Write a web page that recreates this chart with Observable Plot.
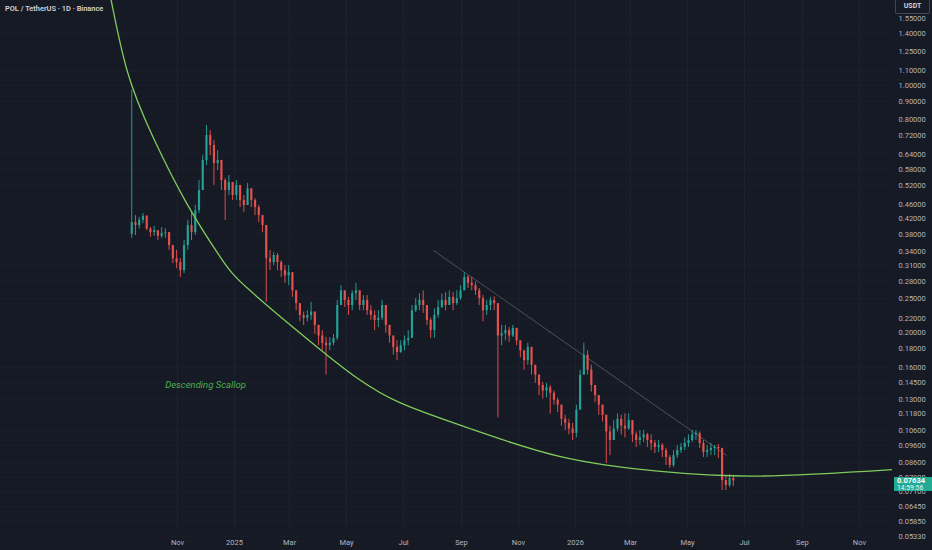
<!DOCTYPE html>
<html><head><meta charset="utf-8">
<script src="https://cdn.jsdelivr.net/npm/d3@7"></script>
<script src="https://cdn.jsdelivr.net/npm/@observablehq/plot@0.6"></script>
<style>
html,body{margin:0;padding:0;background:#161a25;}
#wrap{position:relative;width:932px;height:550px;background:#161a25;overflow:hidden;font-family:Roboto,"Liberation Sans",sans-serif;}
#wrap svg{display:block;}
#title{position:absolute;left:5px;top:4px;color:#d1d4dc;font-size:7.4px;font-weight:600;white-space:nowrap;}
#unit{position:absolute;left:895px;top:0px;width:33px;height:13px;border:1px solid #434651;border-top:none;border-radius:0 0 2px 2px;background:#161a25;color:#d1d4dc;font-size:7px;font-weight:700;text-align:center;line-height:13px;}
#price{position:absolute;left:894px;top:477px;width:38px;height:14px;background:#22ab94;color:#fff;text-align:left;}
#price .p{position:absolute;left:3px;top:-1px;font-size:7.5px;font-weight:700;line-height:9px;}
#price .t{position:absolute;left:3px;top:6.5px;font-size:6.8px;line-height:8px;opacity:.9;}
</style>
</head><body>
<div id="wrap">
  <div id="chart"></div>
  <div id="title">POL / TetherUS · 1D · Binance</div>
  <div id="unit">USDT</div>
  <div id="price"><span class="p">0.07634</span><span class="t">14:59:56</span></div>
</div>
<script>
// ---- data: 4-day candles starting 2024-09-13 ----
const candleStart = "2024-09-13";
const firstOpen = 0.38;
const closes = [0.410,0.402,0.416,0.427,0.393,0.384,0.389,0.375,0.382,0.384,
0.353,0.324,0.316,0.300,0.353,0.402,0.384,0.443,0.505,0.614,
0.722,0.677,0.602,0.614,0.539,0.505,0.532,0.489,0.522,0.473,
0.458,0.511,0.473,0.452,0.429,0.402,0.324,0.316,0.331,0.316,
0.300,0.290,0.296,0.263,0.242,0.224,0.220,0.224,0.229,0.210,
0.196,0.187,0.184,0.187,0.193,0.239,0.263,0.247,0.239,0.258,
0.263,0.239,0.247,0.231,0.224,0.217,0.220,0.239,0.210,0.196,
0.182,0.176,0.184,0.190,0.193,0.231,0.239,0.247,0.239,0.217,
0.203,0.224,0.236,0.247,0.239,0.252,0.242,0.250,0.263,0.287,
0.276,0.272,0.263,0.250,0.231,0.239,0.247,0.242,0.196,0.199,
0.203,0.196,0.206,0.190,0.178,0.167,0.182,0.162,0.152,0.142,
0.137,0.140,0.135,0.129,0.125,0.114,0.111,0.107,0.104,0.121,
0.152,0.173,0.157,0.142,0.133,0.125,0.117,0.105,0.0993,0.107,
0.114,0.109,0.107,0.113,0.103,0.0993,0.101,0.103,0.0993,0.0974,
0.0949,0.0962,0.0930,0.0889,0.0844,0.0900,0.0930,0.0949,0.0974,0.0993,
0.103,0.104,0.0974,0.0918,0.0930,0.0943,0.0949,0.0943,0.0765,0.0741,
0.0775,0.07634];
const highs = [0.97,0.429,0.424,0.435,0.429,0.397,0.400,0.389,0.397,0.394,
0.384,0.353,0.342,0.324,0.365,0.416,0.438,0.458,0.539,0.634,
0.771,0.746,0.699,0.655,0.614,0.546,0.557,0.532,0.539,0.522,
0.489,0.529,0.505,0.479,0.458,0.429,0.402,0.342,0.337,0.335,
0.320,0.310,0.310,0.296,0.263,0.242,0.229,0.231,0.244,0.229,
0.210,0.203,0.194,0.194,0.198,0.247,0.272,0.263,0.252,0.263,
0.276,0.263,0.255,0.255,0.239,0.231,0.231,0.247,0.239,0.210,
0.196,0.190,0.190,0.196,0.203,0.239,0.250,0.258,0.263,0.239,
0.220,0.234,0.247,0.258,0.260,0.263,0.260,0.263,0.272,0.296,
0.290,0.287,0.278,0.267,0.255,0.247,0.252,0.253,0.239,0.210,
0.210,0.207,0.210,0.206,0.190,0.178,0.187,0.178,0.162,0.152,
0.145,0.144,0.142,0.137,0.131,0.125,0.117,0.114,0.111,0.125,
0.157,0.187,0.178,0.162,0.142,0.133,0.125,0.117,0.109,0.113,
0.118,0.117,0.118,0.118,0.113,0.105,0.106,0.106,0.104,0.103,
0.0993,0.0993,0.0974,0.0943,0.0900,0.0930,0.0962,0.0974,0.101,0.103,
0.106,0.106,0.105,0.0993,0.0962,0.0974,0.0962,0.0968,0.0943,0.0791,
0.0796,0.0791];
const lows = [0.37,0.377,0.393,0.407,0.389,0.372,0.375,0.365,0.370,0.370,
0.342,0.314,0.304,0.287,0.294,0.342,0.365,0.377,0.435,0.505,
0.594,0.634,0.522,0.575,0.505,0.416,0.489,0.473,0.473,0.452,
0.438,0.458,0.452,0.429,0.410,0.384,0.244,0.300,0.310,0.300,
0.287,0.276,0.272,0.252,0.231,0.215,0.210,0.215,0.217,0.198,
0.184,0.178,0.152,0.178,0.184,0.190,0.239,0.236,0.224,0.231,
0.247,0.231,0.231,0.224,0.217,0.203,0.207,0.217,0.200,0.187,
0.173,0.167,0.175,0.178,0.184,0.193,0.228,0.231,0.227,0.210,
0.193,0.193,0.220,0.234,0.231,0.239,0.231,0.239,0.247,0.263,
0.267,0.263,0.255,0.239,0.215,0.224,0.231,0.231,0.115,0.184,
0.190,0.188,0.194,0.184,0.170,0.157,0.162,0.152,0.144,0.133,
0.130,0.131,0.118,0.125,0.119,0.109,0.106,0.103,0.0993,0.101,
0.121,0.152,0.152,0.136,0.127,0.117,0.112,0.0855,0.0900,0.0993,
0.105,0.103,0.101,0.106,0.0980,0.0949,0.0962,0.0980,0.0949,0.0930,
0.0912,0.0918,0.0889,0.0844,0.0828,0.0833,0.0883,0.0912,0.0930,0.0949,
0.0980,0.0993,0.0943,0.0889,0.0889,0.0900,0.0900,0.0883,0.0717,0.0717,
0.0731,0.0736];

// scallop curve
const scallopDates = ["2024-08-15","2024-08-22","2024-09-08","2024-10-06","2024-11-11","2024-12-17","2025-01-18","2025-03-31","2025-05-13","2025-06-27","2025-09-07","2025-12-16","2026-04-02","2026-07-18","2026-12-07"];
const scallopPrices = [2.05,1.739,1.103,0.713,0.464,0.327,0.263,0.182,0.1487,0.127,0.108,0.0894,0.0812,0.0788,0.0822];

// descending resistance line
const resDates = ["2025-08-02","2026-06-12"];
const resPrices = [0.342,0.0901];

// annotation
const noteText = "Descending Scallop";
const noteDate = "2024-12-01";
const notePrice = 0.143;

// axis ticks
const yTicks = [1.55,1.40,1.25,1.10,1.00,0.90,0.80,0.72,0.64,0.58,0.52,0.46,0.42,0.38,0.34,0.31,0.28,0.25,0.22,0.20,0.18,0.16,0.145,0.13,0.118,0.106,0.096,0.086,0.078,0.071,0.0645,0.0585,0.0533];
const monthTicks = ["2024-11-01","2025-01-01","2025-03-01","2025-05-01","2025-07-01","2025-09-01","2025-11-01","2026-01-01","2026-03-01","2026-05-01","2026-07-01","2026-09-01","2026-11-01"];

// ---- build ----
const start = new Date(candleStart + "T00:00Z");
const candles = closes.map((c, i) => {
  const o = i === 0 ? firstOpen : closes[i - 1];
  return {date: d3.utcDay.offset(start, 4 * i), open: o, close: c,
          high: Math.max(highs[i], o, c), low: Math.min(lows[i], o, c)};
});
const scallop = scallopDates.map((d, i) => ({date: new Date(d + "T00:00Z"), price: scallopPrices[i]}));
const res = [{x1: new Date(resDates[0] + "T00:00Z"), y1: resPrices[0], x2: new Date(resDates[1] + "T00:00Z"), y2: resPrices[1]}];
const mTicks = monthTicks.map(d => new Date(d + "T00:00Z"));
const up = "#26a69a", down = "#ef5350";
const col = d => d.close >= d.open ? up : down;
const fmt5 = d3.format(".5f");

const chart = Plot.plot({
  width: 932, height: 550,
  marginLeft: 0, marginRight: 40, marginTop: 0, marginBottom: 20,
  style: {background: "#161a25", fontFamily: "Roboto, 'Liberation Sans', sans-serif"},
  x: {type: "utc", domain: [new Date("2024-04-25T12:00Z"), new Date("2026-12-06T10:00Z")]},
  y: {type: "log", domain: [0.05529, 1.739], axis: null},
  marks: [
    Plot.gridX(mTicks, {stroke: "#1f2330", strokeOpacity: 1}),
    Plot.gridY(yTicks, {stroke: "#1c202b", strokeOpacity: 1}),
    Plot.text(yTicks, {y: d => d, frameAnchor: "right", dx: 6, textAnchor: "start", text: d => fmt5(d), fill: "#b2b5be", fontSize: 7.5}),
    Plot.axisX({anchor: "bottom", ticks: mTicks, tickFormat: d => d.getUTCMonth() === 0 ? String(d.getUTCFullYear()) : d3.utcFormat("%b")(d), tickSize: 0, tickPadding: 9, fill: "#b2b5be", fontSize: 7.5, label: null}),
    Plot.link(res, {x1: "x1", y1: "y1", x2: "x2", y2: "y2", stroke: "#787b86", strokeWidth: 0.7, strokeOpacity: 0.8}),
    Plot.ruleX(candles, {x: "date", y1: "low", y2: "high", stroke: col, strokeWidth: 1, strokeOpacity: 0.9}),
    Plot.ruleX(candles, {x: "date", y1: "open", y2: "close", stroke: col, strokeWidth: 2.2, strokeOpacity: 0.9}),
    Plot.line(scallop, {x: "date", y: "price", curve: "natural", stroke: "#7fcc5c", strokeWidth: 1.3, clip: true}),
    Plot.text([{date: new Date(noteDate + "T00:00Z"), price: notePrice}], {x: "date", y: "price", text: () => noteText, fill: "#4caf50", fontStyle: "italic", fontSize: 9.5})
  ]
});
document.getElementById("chart").appendChild(chart);
</script>
</body></html>
